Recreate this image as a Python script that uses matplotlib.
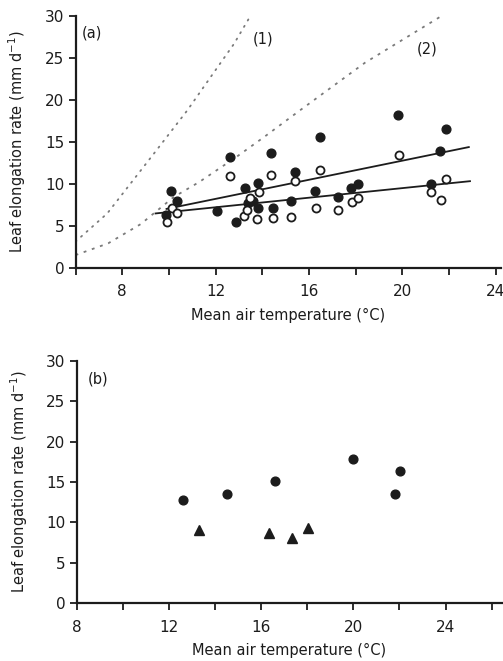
import matplotlib
matplotlib.use("Agg")
import matplotlib.pyplot as plt
from matplotlib.ticker import FixedLocator, NullFormatter

# ---------------- data: panel (a) ----------------
filled_a_x = [10.07, 10.36, 9.86, 12.05, 12.6, 12.89, 13.26, 13.4, 13.6, 13.8, 13.82,
              14.39, 14.46, 15.4, 15.22, 16.47, 16.26, 17.23, 17.79, 18.1, 19.82,
              21.22, 21.6, 21.89]
filled_a_y = [9.1, 7.92, 6.26, 6.77, 13.15, 5.4, 9.5, 7.65, 7.95, 10.1, 7.13,
              13.66, 7.13, 11.35, 7.96, 15.56, 9.1, 8.36, 9.5, 9.94, 18.13,
              10.02, 13.86, 16.55]
open_a_x = [9.9, 10.12, 10.36, 12.62, 13.22, 13.36, 13.47, 13.86, 13.76, 14.39, 14.47,
            15.4, 15.22, 16.46, 16.29, 17.23, 17.83, 18.1, 19.86, 21.22, 21.65, 21.89]
open_a_y = [5.46, 7.05, 6.53, 10.9, 6.18, 6.85, 8.24, 9.03, 5.78, 11.0, 5.86,
            10.3, 5.98, 11.6, 7.13, 6.85, 7.84, 8.24, 13.38, 9.03, 8.04, 10.6]

# regression lines (end points)
fit_upper_x = [9.9, 22.85]
fit_upper_y = [7.0, 14.36]
fit_lower_x = [9.43, 22.9]
fit_lower_y = [6.46, 10.3]

# dotted reference curves (1) and (2)
curve1_x = [6.0, 7.36, 9.36, 10.79, 11.79, 12.79, 13.5, 13.7]
curve1_y = [3.1, 6.46, 13.59, 18.73, 22.7, 26.65, 30.0, 31.0]
curve2_x = [6.0, 7.4, 8.8, 10.2, 11.3, 12.9, 14.1, 15.6, 18.4, 21.7]
curve2_y = [1.5, 2.9, 5.2, 8.4, 10.2, 13.2, 15.6, 18.7, 24.4, 30.0]

# ---------------- data: panel (b) ----------------
circ_b_x = [12.62, 14.54, 16.59, 19.99, 21.79, 22.01]
circ_b_y = [12.74, 13.57, 15.18, 17.83, 13.49, 16.38]
tri_b_x = [13.3, 16.33, 17.36, 18.04]
tri_b_y = [9.0, 8.65, 8.05, 9.35]

x_ticks = [8, 12, 16, 20, 24]
y_ticks = [0, 5, 10, 15, 20, 25, 30]

ylabel = "Leaf elongation rate (mm d$^{-1}$)"
xlabel = "Mean air temperature (\u00b0C)"

INK = "#1c1c1c"
plt.rcParams["font.family"] = ["DejaVu Sans"]
plt.rcParams["mathtext.fontset"] = "dejavusans"

W, H = 503, 661
fig = plt.figure(figsize=(W / 100, H / 100), dpi=100)


def style(ax, xmin, xmax, minor):
    for s in ["top", "right"]:
        ax.spines[s].set_visible(False)
    for s in ["left", "bottom"]:
        ax.spines[s].set_linewidth(1.6)
        ax.spines[s].set_color(INK)
    ax.set_xlim(xmin, xmax)
    ax.set_ylim(0, 30)
    ax.set_yticks(y_ticks)
    ax.set_xticks(x_ticks)
    ax.xaxis.set_minor_locator(FixedLocator(minor))
    ax.xaxis.set_minor_formatter(NullFormatter())
    ax.tick_params(axis="both", which="both", direction="out", length=5,
                   width=1.3, color=INK, labelsize=11, labelcolor=INK)
    ax.tick_params(axis="x", pad=7)
    ax.tick_params(axis="y", pad=3)
    ax.set_ylabel(ylabel, fontsize=10.5, color=INK, labelpad=12)
    ax.set_xlabel(xlabel, fontsize=10.5, color=INK, labelpad=6)


# panel (a)
axa = fig.add_axes([75.5 / W, 1 - 267.7 / H, (501.5 - 75.5) / W, (267.7 - 15.7) / H])
style(axa, 6, 24.25, [6, 10, 14, 18, 22])
axa.plot(curve1_x, curve1_y, linestyle=(0, (0.7, 3.4)), color="#7a7a7a", lw=1.3,
         dash_capstyle="round", zorder=1)
axa.plot(curve2_x, curve2_y, linestyle=(0, (1.6, 3.2)), color="#7a7a7a", lw=1.3,
         zorder=1)
axa.plot(fit_upper_x, fit_upper_y, color=INK, lw=1.3, zorder=2)
axa.plot(fit_lower_x, fit_lower_y, color=INK, lw=1.3, zorder=2)
axa.plot(filled_a_x, filled_a_y, "o", ms=6.3, color=INK, mec=INK, zorder=3)
axa.plot(open_a_x, open_a_y, "o", ms=5.8, mfc="white", mec=INK, mew=1.3, zorder=4)
axa.text(6.25, 28.0, "(a)", fontsize=10.5, color=INK, va="center", ha="left")
axa.text(14.05, 27.2, "(1)", fontsize=10.5, color=INK, va="center", ha="center")
axa.text(21.05, 26.05, "(2)", fontsize=10.5, color=INK, va="center", ha="center")

# panel (b)
axb = fig.add_axes([76.7 / W, 1 - 603 / H, (502 - 76.7) / W, (603 - 361) / H])
style(axb, 8, 26.45, [10, 14, 18, 22, 26])
axb.plot(circ_b_x, circ_b_y, "o", ms=6.3, color=INK, zorder=3)
axb.plot(tri_b_x, tri_b_y, "^", ms=6.5, color=INK, zorder=3)
axb.text(8.5, 27.8, "(b)", fontsize=10.5, color=INK, va="center", ha="left")

fig.savefig("out.png", dpi=100, facecolor="white")
